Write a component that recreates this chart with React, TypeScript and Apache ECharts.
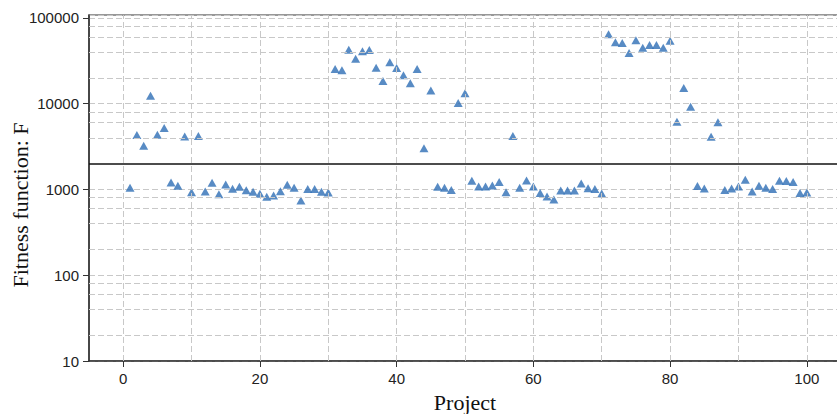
import React, { useEffect, useRef } from "react";
import * as echarts from "echarts";

const projects = [
  1, 2, 3, 4, 5, 6, 7, 8, 9, 10, 11, 12, 13, 14, 15, 16, 17, 18, 19, 20,
  21, 22, 23, 24, 25, 26, 27, 28, 29, 30, 31, 32, 33, 34, 35, 36, 37, 38, 39, 40,
  41, 42, 43, 44, 45, 46, 47, 48, 49, 50, 51, 52, 53, 54, 55, 56, 57, 58, 59, 60,
  61, 62, 63, 64, 65, 66, 67, 68, 69, 70, 71, 72, 73, 74, 75, 76, 77, 78, 79, 80,
  81, 82, 83, 84, 85, 86, 87, 88, 89, 90, 91, 92, 93, 94, 95, 96, 97, 98, 99, 100,
];

const fitness = [
  1045, 4300, 3230, 12400, 4340, 5190, 1208, 1102, 4150, 930,
  4190, 948, 1195, 881, 1143, 1016, 1072, 981, 938, 889,
  820, 851, 955, 1132, 1045, 745, 1009, 1009, 938, 922,
  25300, 24500, 42600, 33400, 40800, 42200, 26200, 18400, 30300, 26000,
  21400, 17300, 25300, 3030, 14200, 1072, 1045, 988, 10200, 13200,
  1259, 1084, 1084, 1113, 1217, 930, 4190, 1045, 1273, 1084,
  906, 828, 764, 973, 973, 973, 1175, 1035, 1009, 898,
  64400, 51900, 50900, 38900, 54800, 44900, 48300, 48300, 44900, 54200,
  6150, 15200, 9200, 1094, 1028, 4110, 6050, 988, 1028, 1084,
  1294, 948, 1102, 1045, 1009, 1259, 1250, 1217, 906, 922,
];

const xTickValues = [0, 20, 40, 60, 80, 100];
const xGridValues = [0, 10, 20, 30, 40, 50, 60, 70, 80, 90, 100];
const yMinorGridValues = [
  20, 40, 60, 80, 200, 400, 600, 800, 4000, 6000, 8000, 20000, 40000, 60000, 80000,
];
const threshold = 2000;

export default function App() {
  const ref = useRef<HTMLDivElement>(null);
  useEffect(() => {
    const chart = echarts.init(ref.current!, undefined, { renderer: "svg" });
    const gridLine = { color: "#c8c8c8", width: 1, type: [6, 3] as any };
    chart.setOption({
      animation: false,
      backgroundColor: "#ffffff",
      grid: {
        left: 89,
        right: -4,
        top: 15,
        bottom: 53,
        containLabel: false,
        outerBoundsMode: "none",
        show: true,
        borderColor: "#333",
        borderWidth: 1.2,
        backgroundColor: "transparent",
      },
      xAxis: {
        type: "value",
        min: -5,
        max: 105,
        name: "Project",
        nameLocation: "middle",
        nameGap: 30,
        nameMoveOverlap: false,
        nameTextStyle: { fontFamily: "Liberation Serif", fontSize: 22, color: "#111" },
        axisLine: { show: true, onZero: false, lineStyle: { color: "#333", width: 1.5 } },
        axisTick: {
          show: true,
          length: 6,
          customValues: xTickValues,
          lineStyle: { color: "#333" },
        },
        axisLabel: {
          customValues: xTickValues,
          fontFamily: "Liberation Sans",
          fontSize: 15,
          color: "#222",
          margin: 10,
        },
        splitLine: { show: false },
      },
      yAxis: {
        type: "log",
        logBase: 10,
        min: 10,
        max: 108000,
        name: "Fitness function: F",
        nameLocation: "middle",
        nameGap: 58,
        nameMoveOverlap: false,
        nameTextStyle: {
          fontFamily: "Liberation Serif",
          fontSize: 22,
          color: "#111",
          padding: [0, 34, 0, 0],
        },
        axisLine: { show: true, onZero: false, lineStyle: { color: "#333", width: 1.5 } },
        axisTick: { show: true, length: 6, lineStyle: { color: "#333" } },
        axisLabel: {
          showMaxLabel: false,
          fontFamily: "Liberation Sans",
          fontSize: 15,
          color: "#222",
          margin: 10,
          formatter: (v: number) => String(Math.round(v)),
        },
        splitLine: { show: true, lineStyle: gridLine },
      },
      series: [
        {
          type: "line",
          data: [],
          z: 1,
          silent: true,
          markLine: {
            silent: true,
            symbol: "none",
            label: { show: false },
            lineStyle: gridLine,
            data: [
              ...xGridValues.map((v) => ({ xAxis: v })),
              ...yMinorGridValues.map((v) => ({ yAxis: v })),
            ],
          },
        },
        {
          type: "line",
          data: [],
          z: 2,
          silent: true,
          markLine: {
            silent: true,
            symbol: "none",
            label: { show: false },
            lineStyle: { color: "#111", width: 1.5, type: "solid" },
            data: [{ yAxis: threshold }],
          },
        },
        {
          type: "scatter",
          symbol: "triangle",
          symbolSize: [9, 8],
          z: 3,
          itemStyle: { color: "#2e6eb5" },
          data: projects.map((p, i) => [p, fitness[i]]),
        },
      ],
    });
    return () => chart.dispose();
  }, []);
  return (
    <div
      ref={ref}
      style={{ position: "fixed", left: 0, top: 0, width: 837, height: 414 }}
    />
  );
}
